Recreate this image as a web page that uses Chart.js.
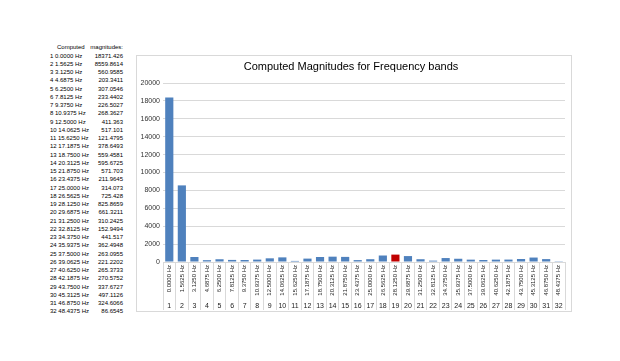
<!DOCTYPE html>
<html>
<head>
<meta charset="utf-8">
<script src="https://cdn.jsdelivr.net/npm/chart.js@4.4.0/dist/chart.umd.min.js"></script>
<style>
  html, body { margin: 0; padding: 0; background: #fff; width: 620px; height: 361px; overflow: hidden; }
  #table { position: absolute; left: 0; top: 0; font-family: "Liberation Sans", Arial, sans-serif; font-size: 6px; color: #000; }
  .row { position: absolute; height: 8.25px; line-height: 8.25px; white-space: nowrap; }
  .l { position: absolute; left: 50px; }
  .r { position: absolute; right: 0; }
  #box { position: absolute; left: 136px; top: 55px; width: 436px; height: 257px; border: 1px solid #d9d9d9; box-sizing: border-box; }
  #c { position: absolute; left: 0; top: 0; }
</style>
</head>
<body>
<div id="table"></div>
<div id="box"><canvas id="c" width="434" height="255"></canvas></div>
<script>
const bandNumbers = ['1','2','3','4','5','6','7','8','9','10','11','12','13','14','15','16','17','18','19','20','21','22','23','24','25','26','27','28','29','30','31','32'];
const frequencies = ['0.0000 Hz','1.5625 Hz','3.1250 Hz','4.6875 Hz','6.2500 Hz','7.8125 Hz','9.3750 Hz','10.9375 Hz','12.5000 Hz','14.0625 Hz','15.6250 Hz','17.1875 Hz','18.7500 Hz','20.3125 Hz','21.8750 Hz','23.4375 Hz','25.0000 Hz','26.5625 Hz','28.1250 Hz','29.6875 Hz','31.2500 Hz','32.8125 Hz','34.3750 Hz','35.9375 Hz','37.5000 Hz','39.0625 Hz','40.6250 Hz','42.1875 Hz','43.7500 Hz','45.3125 Hz','46.8750 Hz','48.4375 Hz'];
const magnitudes = [18371.426, 8559.8614, 560.9585, 203.3411, 307.0546, 233.4402, 226.5027, 268.3627, 411.363, 517.101, 121.4795, 378.6493, 559.4581, 595.6725, 571.703, 211.9645, 314.073, 725.428, 825.8659, 661.3211, 310.2425, 152.9494, 441.517, 362.4948, 263.0955, 221.2202, 265.3733, 270.5752, 337.6727, 497.1126, 324.6066, 86.6545];
const yTicks = [0, 2000, 4000, 6000, 8000, 10000, 12000, 14000, 16000, 18000, 20000];
const highlightedBand = '28.1250 Hz';
const titleText = 'Computed Magnitudes for Frequency bands';

// Left text table (spreadsheet cells)
const tbl = document.getElementById('table');
function addRow(top, left, right) {
  const d = document.createElement('div');
  d.className = 'row';
  d.style.top = top + 'px';
  d.style.left = '0px';
  d.style.width = '123px';
  const a = document.createElement('span'); a.className = 'l'; a.textContent = left;
  const b = document.createElement('span'); b.className = 'r'; b.textContent = right;
  d.appendChild(a); d.appendChild(b);
  tbl.appendChild(d);
}
(function(){
  const d = document.createElement('div');
  d.className = 'row';
  d.style.top = (47 - 4.125) + 'px';
  d.style.left = '0px'; d.style.width = '123px';
  const a = document.createElement('span'); a.style.position='absolute'; a.style.left='57px'; a.textContent = 'Computed';
  const b = document.createElement('span'); b.className = 'r'; b.textContent = 'magnitudes:';
  d.appendChild(a); d.appendChild(b); tbl.appendChild(d);
})();
for (let i = 0; i < magnitudes.length; i++) {
  addRow(55.8 + i * 8.25 - 4.125, bandNumbers[i] + ' ' + frequencies[i], String(magnitudes[i]));
}

Chart.defaults.font.family = '"Liberation Sans", Arial, sans-serif';
Chart.defaults.color = '#404040';

new Chart(document.getElementById('c'), {
  type: 'bar',
  data: {
    labels: frequencies,
    datasets: [{
      data: magnitudes,
      backgroundColor: ctx => (frequencies[ctx.dataIndex] === highlightedBand ? '#C00000' : '#4F81BD'),
      borderWidth: 0,
      barPercentage: 0.65,
      categoryPercentage: 1.0,
      xAxisID: 'x',
      yAxisID: 'y'
    }]
  },
  options: {
    responsive: false,
    animation: false,
    devicePixelRatio: 1,
    layout: { padding: { left: 0, right: 6, top: 0, bottom: 1 } },
    plugins: {
      legend: { display: false },
      tooltip: { enabled: false },
      title: {
        display: true,
        text: titleText,
        color: '#000',
        font: { size: 11, weight: 'normal', lineHeight: 1.2 },
        padding: { top: 4, bottom: 9.8 }
      }
    },
    scales: {
      y: {
        min: 0, max: 20000,
        afterBuildTicks: s => { s.ticks = yTicks.map(v => ({ value: v })); },
        afterFit: s => { s.width = 26; },
        border: { display: false },
        grid: { color: '#d9d9d9', drawTicks: false, lineWidth: 1 },
        ticks: { font: { size: 7 }, color: '#333', padding: 3, callback: v => String(v) }
      },
      x: {
        type: 'category',
        position: 'bottom',
        weight: 0,
        offset: true,
        afterFit: s => { s.height = 35; },
        border: { display: true, color: '#d9d9d9' },
        grid: { offset: true, drawOnChartArea: false, tickLength: 35, color: '#d9d9d9' },
        ticks: { autoSkip: false, minRotation: 90, maxRotation: 90, font: { size: 6 }, color: '#222', padding: -32 }
      },
      x2: {
        type: 'category',
        position: 'bottom',
        weight: 1,
        labels: bandNumbers,
        offset: true,
        afterFit: s => { s.height = 13; },
        border: { display: false },
        grid: { offset: true, drawOnChartArea: false, tickLength: 13, color: '#d9d9d9' },
        ticks: { autoSkip: false, minRotation: 0, maxRotation: 0, font: { size: 7 }, color: '#222', padding: -8.5 }
      }
    }
  }
});
</script>
</body>
</html>
